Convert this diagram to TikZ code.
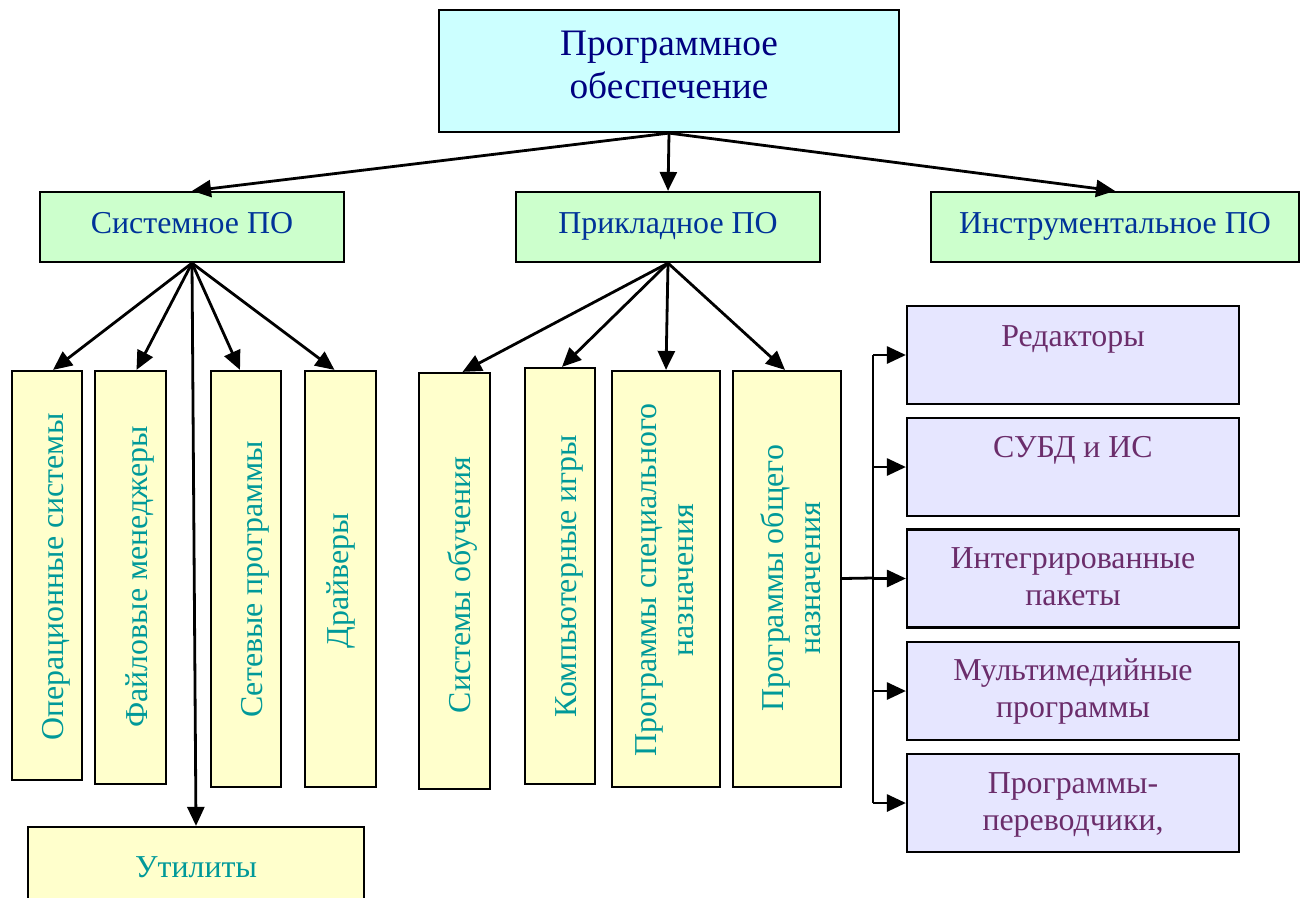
\documentclass[tikz,border=0pt]{standalone}
\usepackage{fontspec}
\setmainfont{Liberation Serif}
\usetikzlibrary{arrows.meta,calc}

\definecolor{topfill}{HTML}{CCFFFF}
\definecolor{topink}{HTML}{000080}
\definecolor{grnfill}{HTML}{CCFFCC}
\definecolor{grnink}{HTML}{003399}
\definecolor{ylwfill}{HTML}{FFFFCC}
\definecolor{ylwink}{HTML}{009999}
\definecolor{prpfill}{HTML}{E6E6FF}
\definecolor{prpink}{HTML}{6B2D6B}

\tikzset{
  frame/.style={draw=black, line width=2.2bp, inner sep=0pt},
  topbox/.style={frame, fill=topfill, minimum width=460bp, minimum height=122bp},
  grnbox/.style={frame, fill=grnfill, minimum height=70bp},
  ylwbox/.style={frame, fill=ylwfill},
  prpbox/.style={frame, fill=prpfill, minimum width=332bp, minimum height=98bp},
  toptext/.style={inner sep=0pt, text=topink, align=center, font=\fontsize{37.5}{43}\selectfont},
  grntext/.style={inner sep=0pt, text=grnink, anchor=base, font=\fontsize{32}{37}\selectfont},
  ylwtext/.style={inner sep=0pt, text=ylwink, rotate=90, font=\fontsize{32}{38}\selectfont},
  prptext/.style={inner sep=0pt, text=prpink, align=center, anchor=north, font=\fontsize{32}{37.5}\selectfont},
  arr/.style={line width=2.8bp, -{Triangle[length=19bp,width=17bp]}},
  busline/.style={line width=2.8bp},
}

\begin{document}
\begin{tikzpicture}[x=1bp,y=-1bp]
\clip (0,0) rectangle (1307,897);

% root
\node[topbox] (top) at (669,71) {};
\node[toptext, anchor=north] (toplbl) at (669,25) {\strut Программное\\обеспечение};

% second level
\node[grnbox, minimum width=304bp] (sys) at (192,227) {};
\node[grnbox, minimum width=304bp] (app) at (668,227) {};
\node[grnbox, minimum width=368bp] (instr) at (1115,227) {};
\node[grntext] (syslbl) at (192,233) {Системное ПО};
\node[grntext] (applbl) at (668,233) {Прикладное ПО};
\node[grntext] (instrlbl) at (1115,233) {Инструментальное ПО};

% system software branches
\node[ylwbox, minimum width=70bp, minimum height=409bp] (os) at (47,575.5) {};
\node[ylwbox, minimum width=71bp, minimum height=413bp] (fm) at (130.5,577.5) {};
\node[ylwbox, minimum width=70bp, minimum height=416bp] (net) at (246,579) {};
\node[ylwbox, minimum width=71bp, minimum height=416bp] (drv) at (340.5,579) {};
\node[ylwbox, minimum width=336bp, minimum height=120bp] (util) at (196,887) {};

\node[ylwtext, anchor=base] (oslbl) at (63,577) {Операционные системы};
\node[ylwtext, anchor=base] (fmlbl) at (147,577) {Файловые менеджеры};
\node[ylwtext, anchor=base] (netlbl) at (262,579.5) {Сетевые программы};
\node[ylwtext, anchor=base] (drvlbl) at (348,580.5) {Драйверы};
\node[inner sep=0pt, text=ylwink, anchor=base, font=\fontsize{32}{37}\selectfont] (utillbl) at (196,877) {Утилиты};

% application software branches
\node[ylwbox, minimum width=71bp, minimum height=416bp] (edu) at (454.5,581) {};
\node[ylwbox, minimum width=70bp, minimum height=416bp] (games) at (560,576) {};
\node[ylwbox, minimum width=108bp, minimum height=416bp] (spec) at (666,579) {};
\node[ylwbox, minimum width=108bp, minimum height=416bp] (gen) at (787,579) {};

\node[ylwtext, anchor=base] (edulbl) at (470,585) {Системы обучения};
\node[ylwtext, anchor=base] (gameslbl) at (576,576) {Компьютерные игры};
\node[ylwtext, anchor=north, align=center] (speclbl) at (629.4,580) {\strut Программы специального\\назначения};
\node[ylwtext, anchor=north, align=center] (genlbl) at (756.4,578.5) {\strut Программы общего\\назначения};

% general-purpose programs
\node[prpbox] (ed) at (1073,355) {};
\node[prpbox] (db) at (1073,467) {};
\node[prpbox] (integ) at (1073,578.5) {};
\node[prpbox] (mm) at (1073,691) {};
\node[prpbox] (tr) at (1073,803) {};

\node[prptext] (edlbl) at (1073,320) {\strut Редакторы};
\node[prptext] (dblbl) at (1073,431) {\strut СУБД и ИС};
\node[prptext] (integlbl) at (1073,542) {\strut Интегрированные\\пакеты};
\node[prptext] (mmlbl) at (1073,654) {\strut Мультимедийные\\программы};
\node[prptext] (trlbl) at (1073,767) {\strut Программы-\\переводчики,};

% connectors from the root
\draw[arr] (top.south) -- (sys.north);
\draw[arr] (top.south) -- (app.north);
\draw[arr] (top.south) -- (instr.north);

% connectors of system software
\draw[arr] (sys.south) -- ($(os.north)+(6,0)$);
\draw[arr] (sys.south) -- ($(fm.north)+(6,0)$);
\draw[arr] (sys.south) -- (util.north);
\draw[arr] (sys.south) -- ($(net.north)+(-6,0)$);
\draw[arr] (sys.south) -- ($(drv.north)+(-6,0)$);

% connectors of application software
\draw[arr] (app.south) -- ($(edu.north)+(8,0)$);
\draw[arr] (app.south) -- ($(games.north)+(2,0)$);
\draw[arr] (app.south) -- (spec.north);
\draw[arr] (app.south) -- ($(gen.north)+(-2,0)$);

% bus to the general-purpose groups
\coordinate (bus) at (873,578);
\draw[busline] (gen.east |- integ.west) -- (bus);
\draw[busline] (bus |- ed.west) -- (bus |- tr.west);
\draw[arr] (bus |- ed.west) -- (ed.west);
\draw[arr] (bus |- db.west) -- (db.west);
\draw[arr] (bus |- integ.west) -- (integ.west);
\draw[arr] (bus |- mm.west) -- (mm.west);
\draw[arr] (bus |- tr.west) -- (tr.west);
\end{tikzpicture}
\end{document}
